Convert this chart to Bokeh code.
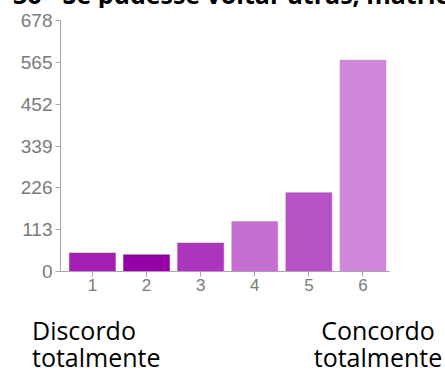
from bokeh.plotting import figure
from bokeh.models import FixedTicker, Range1d, ColumnDataSource, Div
from bokeh.layouts import column
from bokeh.embed import file_html
from bokeh.resources import INLINE

# Data
categories = [1, 2, 3, 4, 5, 6]
tick_labels = ["1", "2", "3", "4", "5", "6"]
counts = [50, 45, 77, 135, 213, 571]
bar_colors = ["#a11fb2", "#9400a6", "#ab35bd", "#c570d0", "#b652c5", "#d089da"]
y_ticks = [0, 113, 226, 339, 452, 565, 678]
title_text = "36 - Se pudesse voltar atrás, matricular-me-ia novamente neste curso"
left_label = ["Discordo", "totalmente"]
right_label = ["Concordo", "totalmente"]

W = 445

title_div = Div(
    text=('<div style="position:relative; top:-18px; left:13px; white-space:nowrap; '
          'font-family:\'Open Sans\'; font-weight:bold; font-size:25px; line-height:25px; '
          'color:black;">' + title_text + '</div>'),
    width=W, height=8, margin=0, styles={"overflow": "hidden"})

p = figure(width=W, height=293, output_backend="svg", toolbar_location=None,
           x_range=Range1d(0.41, 6.49), y_range=Range1d(0, 678),
           min_border_left=60, min_border_right=56, min_border_top=12,
           min_border_bottom=30, margin=0)

src = ColumnDataSource(dict(x=categories, top=counts, color=bar_colors))
p.vbar(x="x", top="top", width=0.85, bottom=0, source=src,
       fill_color="color", line_color="color", line_width=0.5)

p.outline_line_color = None
p.xgrid.visible = False
p.ygrid.visible = False
p.background_fill_color = "white"
p.border_fill_color = "white"

axis_color = "#a6a6a6"
label_color = "#7a7a7a"

p.yaxis.ticker = FixedTicker(ticks=y_ticks)
p.yaxis.minor_tick_line_color = None
p.yaxis.major_tick_in = 0
p.yaxis.major_tick_out = 5
p.yaxis.axis_line_color = axis_color
p.yaxis.major_tick_line_color = axis_color
p.yaxis.major_label_text_color = label_color
p.yaxis.major_label_text_font = "Liberation Sans"
p.yaxis.major_label_text_font_size = "19px"
p.yaxis.major_label_standoff = 3

p.xaxis.ticker = FixedTicker(ticks=categories)
p.xaxis.major_label_overrides = {c: t for c, t in zip(categories, tick_labels)}
p.xaxis.minor_tick_line_color = None
p.xaxis.major_tick_in = 0
p.xaxis.major_tick_out = 5
p.xaxis.axis_line_color = axis_color
p.xaxis.major_tick_line_color = axis_color
p.xaxis.major_label_text_color = label_color
p.xaxis.major_label_text_font = "Liberation Sans"
p.xaxis.major_label_text_font_size = "17px"
p.xaxis.major_label_standoff = 2

bottom_html = (
    '<div style="position:relative; width:445px; height:73px; font-family:\'Open Sans\'; '
    'font-size:25px; line-height:27px; color:black;">'
    '<div style="position:absolute; left:32px; top:16px; white-space:nowrap;">'
    + left_label[0] + '<br>' + left_label[1] + '</div>'
    '<div style="position:absolute; left:310px; top:16px; width:136px; text-align:center; white-space:nowrap;">'
    + right_label[0] + '<br>' + right_label[1] + '</div>'
    '</div>')
bottom_div = Div(text=bottom_html, width=W, height=73, margin=0)

layout = column(title_div, p, bottom_div, spacing=0, margin=0)

open("out.html", "w").write(file_html(layout, INLINE))
